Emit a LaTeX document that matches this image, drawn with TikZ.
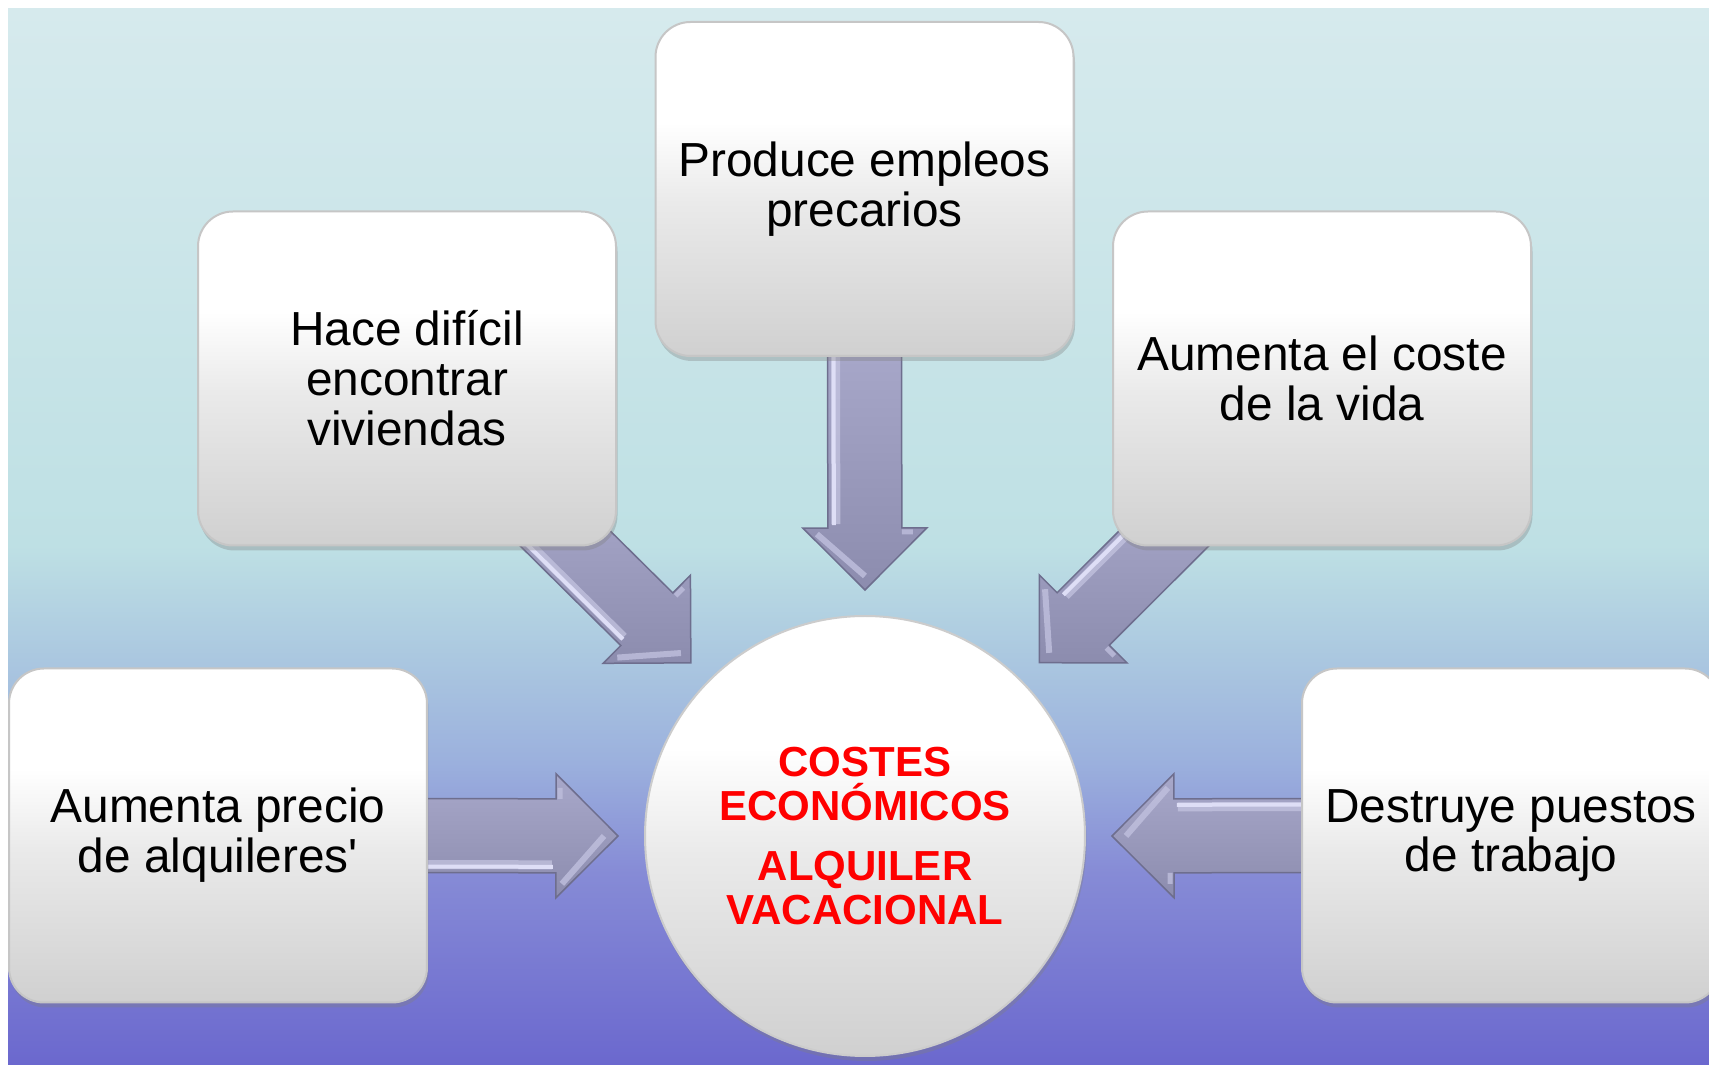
\documentclass[tikz,border=0pt]{standalone}
\usepackage{fontspec}
\setmainfont{Liberation Sans}[Ligatures=TeXOff]
\usetikzlibrary{calc,shadows}
\definecolor{bgA}{HTML}{D6EAED}
\definecolor{bgB}{HTML}{BEE0E4}
\definecolor{bgC}{HTML}{ABC8E0}
\definecolor{bgD}{HTML}{9BB0DD}
\definecolor{bgE}{HTML}{868BD6}
\definecolor{bgF}{HTML}{6B68CE}
\definecolor{boxD}{HTML}{D0D0D0}
\definecolor{boxM}{HTML}{EAEAEA}
\definecolor{arrL}{HTML}{A8A8CA}
\definecolor{arrD}{HTML}{8C8CAE}
\definecolor{arrO}{HTML}{6E6E8E}
\definecolor{arrH}{HTML}{DEDEF6}
\definecolor{hubred}{HTML}{FF0000}
\pgfdeclareverticalshading{bgshade}{100bp}{color(0bp)=(bgF); color(25bp)=(bgF); color(34.1bp)=(bgE); color(39.3bp)=(bgD); color(44.4bp)=(bgC); color(49.6bp)=(bgB); color(75bp)=(bgA); color(100bp)=(bgA)}
\pgfdeclareverticalshading{boxshade}{100bp}{color(0bp)=(boxD); color(25bp)=(boxD); color(48bp)=(boxM); color(60bp)=(white); color(100bp)=(white)}
\pgfdeclarelayer{bglayer}
\pgfdeclarelayer{arrowlayer}
\pgfsetlayers{bglayer,arrowlayer,main}
\newcommand\aw{37}
\newcommand\ah{62}
\newcommand\al{62}
% block arrow from named coordinate #1 to named coordinate #2
\newcommand\blockarrow[2]{%
  \pgfpointdiff{\pgfpointanchor{#1}{center}}{\pgfpointanchor{#2}{center}}%
  \pgfgetlastxy{\bdx}{\bdy}%
  \pgfmathsetmacro\bang{atan2(\bdy,\bdx)}%
  \pgfmathsetmacro\blen{veclen(\bdx,\bdy)/0.284528}%
  \pgfmathsetmacro\bb{\blen-\al}%
  \begin{scope}[shift={(#1)}, rotate=\bang]
    \shade[top color=arrL, bottom color=arrD, draw=arrO, line width=0.15mm, line join=miter]
      (0,-\aw) -- (\bb,-\aw) -- (\bb,-\ah) -- (\blen,0) -- (\bb,\ah) -- (\bb,\aw) -- (0,\aw) -- cycle;
    \draw[arrH!55!arrL, line width=0.9mm, opacity=0.7] (0,\aw-8) -- (\bb-4,\aw-8);
    \draw[arrH, line width=0.4mm] (0,\aw-6) -- (\bb-3,\aw-6);
    \draw[arrH!45!arrL, line width=0.6mm, opacity=0.8] (\bb+6,\ah-14) -- (\blen-14,0);
    \draw[arrH!40!arrL, line width=0.5mm, opacity=0.8] (\bb+4,-\ah+14) -- (\bb+4,-\aw);
  \end{scope}}
\begin{document}
\begin{tikzpicture}[x=0.1mm, y=-0.1mm,
  box/.style={rounded corners=3.5mm, minimum width=41.8mm, minimum height=33.4mm,
    inner sep=0pt, shade, shading=boxshade, draw=gray!45, line width=0.2mm,
    drop shadow={shadow xshift=0.15mm, shadow yshift=-0.5mm, opacity=0.35},
    align=center, font=\fontsize{13.6}{14.2}\selectfont},
  hubnode/.style={circle, minimum size=44mm, inner sep=0pt, shade, shading=boxshade,
    draw=gray!40, line width=0.2mm,
    drop shadow={shadow xshift=0.15mm, shadow yshift=-0.5mm, opacity=0.35},
    align=center, text=hubred, font=\bfseries\fontsize{11.95}{12.5}\selectfont}]
\useasboundingbox (0,0) rectangle (1709,1065);
\clip (0,0) rectangle (1709,1065);
\begin{pgfonlayer}{bglayer}
  \fill[white] (0,0) rectangle (1709,1065);
  \shade[shading=bgshade] (8,9) rectangle (1709,1065);
\end{pgfonlayer}

\node[box] (top) at (864.5,189) {Produce empleos\\precarios};
\node[box] (ul) at (407,378.5) {Hace difícil\\encontrar\\viviendas};
\node[box] (ur) at (1322,378.5) {Aumenta el coste\\de la vida};
\node[box] (ll) at (218,835.5) {Aumenta precio\\de alquileres'};
\node[box] (lr) at (1511,835.5) {Destruye puestos\\de trabajo};
\node[hubnode] (hub) at (865,836) {COSTES\\ECONÓMICOS\\[4.8pt]ALQUILER\\VACACIONAL};

\coordinate (s1) at ($(top.south)+(0,-16)$);
\coordinate (e1) at ($(hub.north)+(0,-25)$);
\coordinate (s2) at ($(ul.south east)+(-76,-32)$);
\coordinate (e2) at ($(hub.center)+(-174,-173)$);
\coordinate (s3) at ($(ur.south west)+(76,-32)$);
\coordinate (e3) at ($(hub.center)+(174,-173)$);
\coordinate (s4) at ($(ll.east)+(-17,0)$);
\coordinate (e4) at ($(hub.west)+(-26,0)$);
\coordinate (s5) at ($(lr.west)+(18,0)$);
\coordinate (e5) at ($(hub.east)+(26,0)$);

\begin{pgfonlayer}{arrowlayer}
  \blockarrow{s1}{e1}
  \blockarrow{s2}{e2}
  \blockarrow{s3}{e3}
  \blockarrow{s4}{e4}
  \blockarrow{s5}{e5}
\end{pgfonlayer}
\end{tikzpicture}
\end{document}
